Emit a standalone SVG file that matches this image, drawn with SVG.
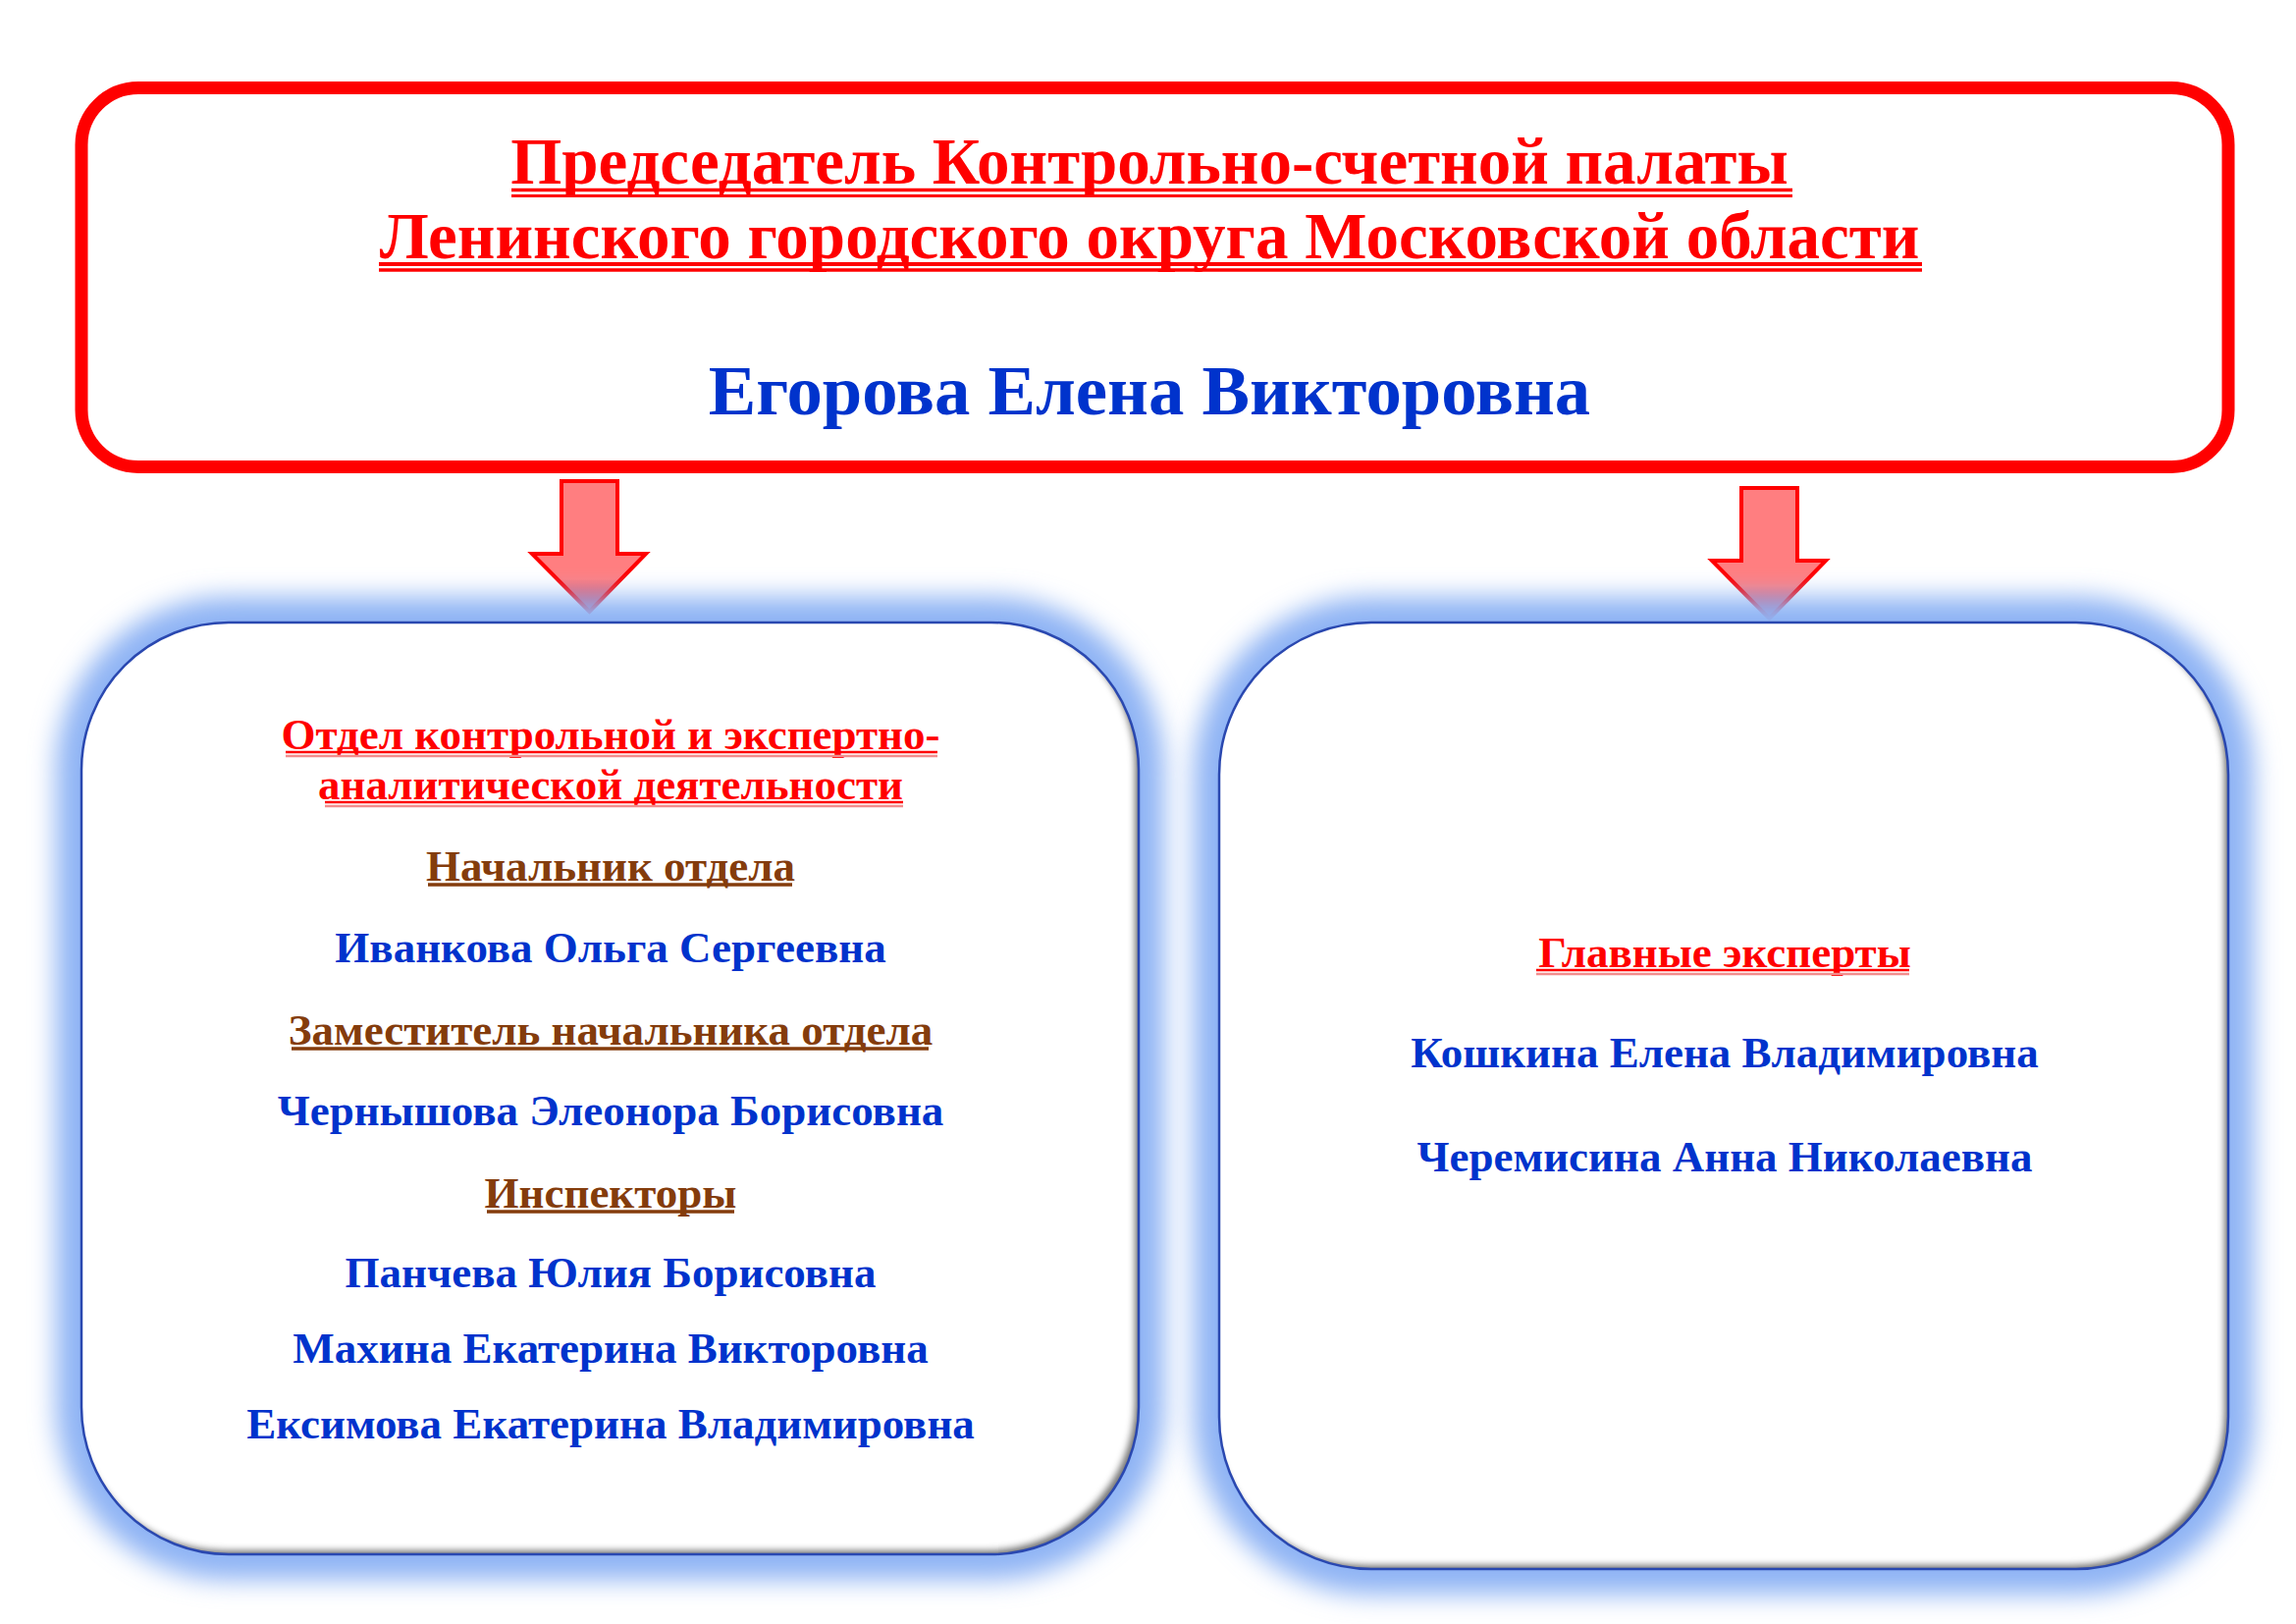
<svg xmlns="http://www.w3.org/2000/svg" width="2339" height="1654" viewBox="0 0 2339 1654">
<style>
text{font-family:"Liberation Serif","Times New Roman",serif;font-weight:bold;text-anchor:middle}
.t1{fill:#FF0000;font-size:67px}
.nm{fill:#0033CC;font-size:72.7px}
.hd{fill:#FF0000;font-size:45px}
.br{fill:#843C0C;font-size:45px}
.bl{fill:#0033CC;font-size:45px}
.ul{stroke:#FF0000;fill:none}
.ulp{stroke:#F28C8C;fill:none}
.ulb{stroke:#843C0C;stroke-width:3.5;fill:none}
.box{fill:#FFFFFF}
.edge{fill:none;stroke:#2A48B0;stroke-width:2.5}
.glow{fill:#8FB4F4;stroke:#8FB4F4;stroke-width:52}
.arr{stroke:#FF0000;stroke-width:4;stroke-linejoin:miter}
</style>
<defs>
<filter id="blur" x="-10%" y="-10%" width="120%" height="120%">
<feGaussianBlur stdDeviation="13"/>
</filter>
<filter id="inner" x="-5%" y="-5%" width="110%" height="110%">
<feComponentTransfer in="SourceAlpha" result="inv"><feFuncA type="table" tableValues="1 0"/></feComponentTransfer>
<feOffset in="inv" dx="-5" dy="-5" result="off"/>
<feGaussianBlur in="off" stdDeviation="3" result="bl"/>
<feFlood flood-color="#7A7A7A" result="col"/>
<feComposite in="col" in2="bl" operator="in" result="sh"/>
<feComposite in="sh" in2="SourceAlpha" operator="in" result="shin"/>
<feMerge><feMergeNode in="SourceGraphic"/><feMergeNode in="shin"/></feMerge>
</filter>
<linearGradient id="ag" x1="0" y1="0" x2="0" y2="1">
<stop offset="0" stop-color="#FF7E80"/>
<stop offset="0.75" stop-color="#FF7E80"/>
<stop offset="1" stop-color="#C8385A"/>
</linearGradient>
</defs>
<rect width="2339" height="1654" fill="#FFFFFF"/>

<g id="connectors">
<path class="arr" fill="url(#ag)" d="M572,490 H629 V564 H658 L600.5,623 L542,564 H572 Z"/>
<path class="arr" fill="url(#ag)" d="M1774,497 H1831 V571 H1860 L1802.5,630 L1744,571 H1774 Z"/>
</g>

<g id="chairman">
<rect x="83" y="89.5" width="2187" height="386" rx="58" ry="58" fill="#FFFFFF" stroke="#FF0000" stroke-width="13"/>
<text class="t1" x="1171" y="187">Председатель Контрольно-счетной палаты</text>
<line class="ul" x1="521" y1="193.5" x2="1826" y2="193.5" stroke-width="3.5"/>
<line class="ul" x1="521" y1="199.5" x2="1826" y2="199.5" stroke-width="3"/>
<text class="t1" x="1171" y="263">Ленинского городского округа Московской области</text>
<line class="ul" x1="386" y1="269" x2="1958" y2="269" stroke-width="4"/>
<line class="ul" x1="386" y1="275" x2="1958" y2="275" stroke-width="3.5"/>
<text class="nm" x="1171" y="422">Егорова Елена Викторовна</text>
</g>

<g id="department">
<rect class="glow" x="83" y="634" width="1077" height="949" rx="150" ry="150" filter="url(#blur)"/>
<rect class="box" x="83" y="634" width="1077" height="949" rx="150" ry="150" filter="url(#inner)"/>
<rect class="edge" x="83" y="634" width="1077" height="949" rx="150" ry="150"/>
<text class="hd" x="622" y="763">Отдел контрольной и экспертно-</text>
<line class="ul" x1="291" y1="766" x2="955" y2="766" stroke-width="2.5"/>
<line class="ulp" x1="291" y1="770" x2="955" y2="770" stroke-width="2.5"/>
<text class="hd" x="622" y="814">аналитической деятельности</text>
<line class="ul" x1="331" y1="817" x2="920" y2="817" stroke-width="2.5"/>
<line class="ulp" x1="331" y1="821" x2="920" y2="821" stroke-width="2.5"/>
<text class="br" x="622" y="897">Начальник отдела</text>
<line class="ulb" x1="436" y1="901" x2="807" y2="901"/>
<text class="bl" x="622" y="980">Иванкова Ольга Сергеевна</text>
<text class="br" x="622" y="1064">Заместитель начальника отдела</text>
<line class="ulb" x1="297" y1="1068" x2="946" y2="1068"/>
<text class="bl" x="622" y="1146">Чернышова Элеонора Борисовна</text>
<text class="br" x="622" y="1230">Инспекторы</text>
<line class="ulb" x1="496" y1="1234" x2="748" y2="1234"/>
<text class="bl" x="622" y="1311">Панчева Юлия Борисовна</text>
<text class="bl" x="622" y="1388">Махина Екатерина Викторовна</text>
<text class="bl" x="622" y="1465">Ексимова Екатерина Владимировна</text>
</g>

<g id="experts">
<rect class="glow" x="1242" y="634" width="1028" height="964" rx="155" ry="155" filter="url(#blur)"/>
<rect class="box" x="1242" y="634" width="1028" height="964" rx="155" ry="155" filter="url(#inner)"/>
<rect class="edge" x="1242" y="634" width="1028" height="964" rx="155" ry="155"/>
<text class="hd" x="1757" y="985">Главные эксперты</text>
<line class="ul" x1="1565" y1="988" x2="1945" y2="988" stroke-width="2.5"/>
<line class="ulp" x1="1565" y1="992" x2="1945" y2="992" stroke-width="2.5"/>
<text class="bl" x="1757" y="1087">Кошкина Елена Владимировна</text>
<text class="bl" x="1757" y="1193">Черемисина Анна Николаевна</text>
</g>
</svg>
